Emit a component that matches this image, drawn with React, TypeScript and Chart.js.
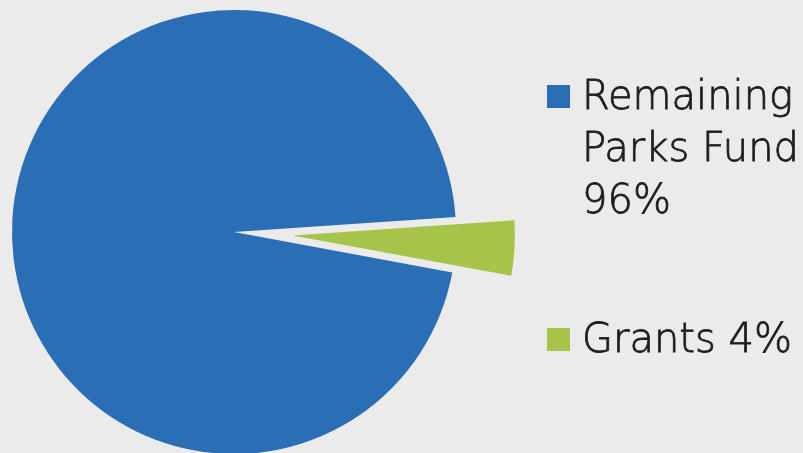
import React, { useEffect, useRef } from "react";
import { Chart, registerables } from "chart.js";

Chart.register(...registerables);

const labels = ["Remaining Parks Fund", "Grants"];
const values = [96, 4];
const colors = ["#2A6EB6", "#A6C34A"];
const offsets = [0, 236];

// Chart.js enlarges and narrows an offset arc; keep exploded slices at the pie's radius and true angle.
const keepShape = {
  id: "keepShape",
  afterDatasetsUpdate(chart: any) {
    const meta = chart.getDatasetMeta(0);
    meta.data.forEach((arc: any, i: number) => {
      const off = (offsets[i] || 0) / 4;
      if (!off) return;
      const circ = arc.circumference || 0;
      const fix = 1 - Math.sin(Math.min(Math.PI, circ));
      const radiusOffset = off * fix;
      const R = arc.outerRadius;
      arc.outerRadius = R - radiusOffset;
      const d = radiusOffset / (Math.PI * R);
      arc.startAngle -= d / 2;
      arc.endAngle += d / 2;
    });
  },
};

export default function App() {
  const ref = useRef<HTMLCanvasElement | null>(null);

  useEffect(() => {
    if (!ref.current) return;
    const chart = new Chart(ref.current, {
      type: "pie",
      data: {
        labels,
        datasets: [
          {
            data: values,
            backgroundColor: colors,
            borderWidth: 0,
            offset: offsets,
          },
        ],
      },
      options: {
        responsive: false,
        animation: false,
        rotation: 100.5,
        layout: { padding: 0 },
        plugins: {
          legend: { display: false },
          tooltip: { enabled: false },
        },
      },
      plugins: [keepShape],
    });
    return () => chart.destroy();
  }, []);

  const itemTops = [69, 312];

  return (
    <div
      style={{
        position: "fixed",
        left: 0,
        top: 0,
        width: 803,
        height: 453,
        overflow: "hidden",
        background: "#EBEBEB",
      }}
    >
      <canvas
        ref={ref}
        width={680}
        height={680}
        style={{ position: "absolute", left: -106, top: -108, width: 680, height: 680 }}
      />
      {labels.map((l, i) => (
        <div key={l}>
          <div
            style={{
              position: "absolute",
              left: 547,
              top: itemTops[i] + 16,
              width: 23,
              height: 23,
              background: colors[i],
            }}
          />
          <div
            style={{
              position: "absolute",
              left: 582,
              top: itemTops[i],
              width: 232,
              fontFamily: "'DejaVu Sans', sans-serif",
              fontWeight: 200,
              fontSize: 40,
              lineHeight: "52px",
              color: "#1E1E1E",
              WebkitTextStroke: "0.8px #1E1E1E",
            }}
          >
            {`${l} ${values[i]}%`}
          </div>
        </div>
      ))}
    </div>
  );
}
